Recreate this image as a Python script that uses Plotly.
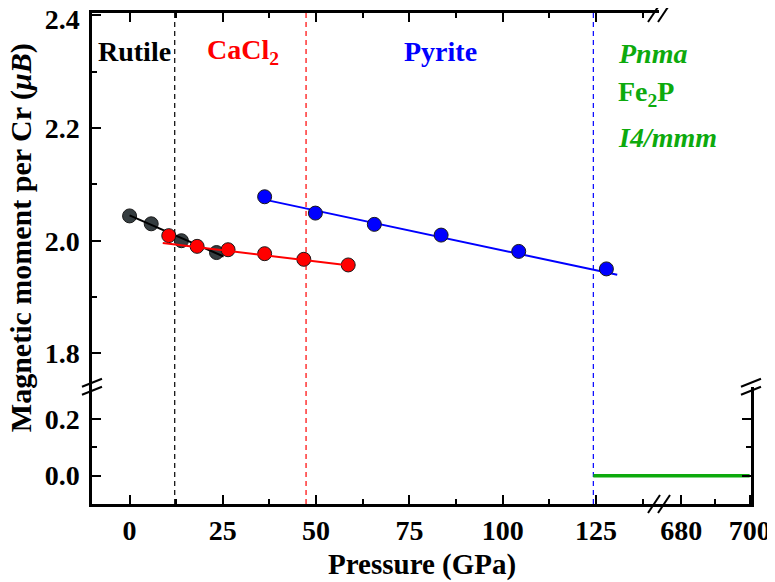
import plotly.graph_objects as go

# ---------------- data ----------------
rutile_p = [0, 5.8, 13.9, 23.3]
rutile_m = [2.044, 2.030, 2.000, 1.979]
rutile_fit_p = [0, 25.2]
rutile_fit_m = [2.045, 1.972]

cacl2_p = [10.5, 18.1, 26.4, 36.2, 46.7, 58.6]
cacl2_m = [2.009, 1.990, 1.984, 1.977, 1.967, 1.957]
cacl2_fit_p = [8.9, 60.1]
cacl2_fit_m = [1.996, 1.955]

pyrite_p = [36.2, 49.8, 65.6, 83.5, 104.3, 127.8]
pyrite_m = [2.078, 2.049, 2.029, 2.010, 1.981, 1.950]
pyrite_fit_p = [36.8, 130.7]
pyrite_fit_m = [2.072, 1.9395]

highp_p = [124.3, 700]
highp_m = [0.0, 0.0]

boundaries_p = [12.1, 47.3, 124.3]
boundary_colors = ["black", "#FF0000", "#0000FF"]

x_low_ticks = [0, 25, 50, 75, 100, 125]
x_low_minor = [12.5, 37.5, 62.5, 87.5, 112.5, 137.5]
x_high_ticks = [680, 700]
x_high_minor = [690]
y_up_ticks = [1.8, 2.0, 2.2]
y_up_labels = ["1.8", "2.0", "2.2"]
y_top_tick = [2.4]
y_top_label = ["2.4"]
y_up_minor = [1.9, 2.1, 2.3]
y_low_ticks = [0.0, 0.2]
y_low_labels = ["0.0", "0.2"]
y_low_minor = [0.1]

# ---------------- layout geometry ----------------
XS = 0.8604   # x break (paper)
YS = 0.2389   # y break (paper)
X_LOW_RANGE = [-10.07, 141.9]
X_HIGH_RANGE = [673.5, 700.4]
Y_UP_RANGE = [1.741, 2.404]
Y_LOW_RANGE = [-0.1, 0.314]

FONT = "Liberation Serif"
FS = 28
GREEN = "#0DAA0D"

fig = go.Figure()

marker_line = dict(color="#1a1a1a", width=1)
# upper-left subplot (x3, y)
fig.add_trace(go.Scatter(x=rutile_p, y=rutile_m, mode="markers", xaxis="x3", yaxis="y",
                         marker=dict(size=14, color="#353D40", line=marker_line), showlegend=False))
fig.add_trace(go.Scatter(x=rutile_fit_p, y=rutile_fit_m, mode="lines", xaxis="x3", yaxis="y",
                         line=dict(color="black", width=2), showlegend=False))
fig.add_trace(go.Scatter(x=cacl2_p, y=cacl2_m, mode="markers", xaxis="x3", yaxis="y",
                         marker=dict(size=14, color="#FF0000", line=marker_line), showlegend=False))
fig.add_trace(go.Scatter(x=cacl2_fit_p, y=cacl2_fit_m, mode="lines", xaxis="x3", yaxis="y",
                         line=dict(color="#FF0000", width=2), showlegend=False))
fig.add_trace(go.Scatter(x=pyrite_fit_p, y=pyrite_fit_m, mode="lines", xaxis="x3", yaxis="y",
                         line=dict(color="#0000FF", width=2), showlegend=False))
# pyrite markers on the overlaying copy of the upper y axis (identical range)
fig.add_trace(go.Scatter(x=pyrite_p, y=pyrite_m, mode="markers", xaxis="x3", yaxis="y5",
                         marker=dict(size=14, color="#0000FF", line=marker_line), showlegend=False))
# high-pressure phases: zero moment, spans both x segments of the lower row
fig.add_trace(go.Scatter(x=highp_p, y=highp_m, mode="lines", xaxis="x", yaxis="y2",
                         line=dict(color=GREEN, width=3.5), showlegend=False))
fig.add_trace(go.Scatter(x=highp_p, y=highp_m, mode="lines", xaxis="x2", yaxis="y4",
                         line=dict(color=GREEN, width=3.5), showlegend=False))

ax_common = dict(showline=True, linecolor="black", linewidth=2.5, ticks="inside",
                 ticklen=9, tickwidth=2, tickcolor="black", showgrid=False, zeroline=False,
                 automargin=False, ticklabeloverflow="allow",
                 tickfont=dict(family=FONT, size=FS, color="black", weight="bold"))


def minor(vals):
    return dict(tickmode="array", tickvals=vals, ticks="inside", ticklen=5,
                tickwidth=2, tickcolor="black", showgrid=False)


# the page body adds an 8px offset, so the figure is 8px smaller and shifted
fig.update_layout(
    width=767, height=574,
    margin=dict(l=84, r=24, t=5, b=78, autoexpand=False),
    paper_bgcolor="white", plot_bgcolor="white",
    xaxis=dict(domain=[0, XS], range=X_LOW_RANGE, anchor="y2", side="bottom",
               tickmode="array", tickvals=x_low_ticks, minor=minor(x_low_minor), **ax_common),
    xaxis2=dict(domain=[XS, 1], range=X_HIGH_RANGE, anchor="y4", side="bottom",
                tickmode="array", tickvals=x_high_ticks, minor=minor(x_high_minor), **ax_common),
    xaxis3=dict(domain=[0, XS], range=X_LOW_RANGE, anchor="y", side="top", showticklabels=False,
                tickmode="array", tickvals=x_low_ticks, minor=minor(x_low_minor), **ax_common),
    xaxis4=dict(domain=[XS, 1], range=X_HIGH_RANGE, anchor="y3", side="top", showticklabels=False,
                tickmode="array", tickvals=x_high_ticks, minor=minor(x_high_minor), **ax_common),
    yaxis=dict(domain=[YS, 1], range=Y_UP_RANGE, anchor="x3", side="left",
               tickmode="array", tickvals=y_up_ticks, ticktext=y_up_labels,
               ticklabelstandoff=4, minor=minor(y_up_minor), **ax_common),
    # top label of the upper segment, nudged down so it stays inside the page
    yaxis5=dict(overlaying="y", range=Y_UP_RANGE, anchor="x3", side="left",
                tickmode="array", tickvals=y_top_tick, ticktext=y_top_label,
                ticklabelstandoff=4, ticklabelshift=4, **ax_common),
    yaxis2=dict(domain=[0, YS], range=Y_LOW_RANGE, anchor="x", side="left",
                tickmode="array", tickvals=y_low_ticks, ticktext=y_low_labels,
                ticklabelstandoff=4, minor=minor(y_low_minor), **ax_common),
    yaxis3=dict(domain=[YS, 1], range=Y_UP_RANGE, anchor="x4", side="right", showticklabels=False,
                tickmode="array", tickvals=y_up_ticks, minor=minor(y_up_minor), **ax_common),
    yaxis4=dict(domain=[0, YS], range=Y_LOW_RANGE, anchor="x2", side="right", showticklabels=False,
                tickmode="array", tickvals=y_low_ticks, minor=minor(y_low_minor), **ax_common),
)

# phase boundaries (dashed vertical lines through full height)
shapes = []
for p, c in zip(boundaries_p, boundary_colors):
    shapes.append(dict(type="line", xref="x", yref="paper", x0=p, x1=p, y0=0, y1=1,
                       line=dict(color=c, width=1.2, dash="5px,4px"), layer="below"))

# axis break marks
brk = dict(color="black", width=2)
for xa in (0, 1):  # y-axis breaks on left and right spines
    for off in (-4, 4):
        shapes.append(dict(type="line", xref="paper", yref="paper",
                           xsizemode="pixel", ysizemode="pixel", xanchor=xa, yanchor=YS,
                           x0=-10, x1=10, y0=off - 4, y1=off + 4, line=brk))
for ya in (0, 1):  # x-axis breaks on bottom and top spines
    for off in (-5, 5):
        shapes.append(dict(type="line", xref="paper", yref="paper",
                           xsizemode="pixel", ysizemode="pixel", xanchor=XS, yanchor=ya,
                           x0=off - 6, x1=off + 6, y0=-9, y1=9, line=brk))
fig.update_layout(shapes=shapes)

# labels
def lab(text, x, y, color, italic=False):
    return dict(text=text, x=x, y=y, xref="x3", yref="y", xanchor="left", yanchor="middle",
                showarrow=False,
                font=dict(family=FONT, size=FS, color=color, weight="bold",
                          style="italic" if italic else "normal"))

annotations = [
    lab("Rutile", -8.9, 2.335, "black"),
    lab("CaCl<sub>2</sub>", 20.1, 2.335, "#FF0000"),
    lab("Pyrite", 73.1, 2.335, "#0000FF"),
    lab("Pnma", 130.4, 2.333, GREEN, italic=True),
    lab("Fe<sub>2</sub>P", 130.4, 2.262, GREEN),
    lab("I4/mmm", 130.4, 2.183, GREEN, italic=True),
    dict(text="Pressure (GPa)", x=0.5015, y=-0.124, xref="paper", yref="paper",
         xanchor="center", yanchor="middle", showarrow=False,
         font=dict(family=FONT, size=29, color="black", weight="bold")),
    dict(text="Magnetic moment per Cr (<i>μB</i>)", x=-0.1075, y=0.5418, xref="paper", yref="paper",
         xanchor="center", yanchor="middle", textangle=-90, showarrow=False,
         font=dict(family=FONT, size=30, color="black", weight="bold")),
]
fig.update_layout(annotations=annotations)

fig.write_html("out.html")
